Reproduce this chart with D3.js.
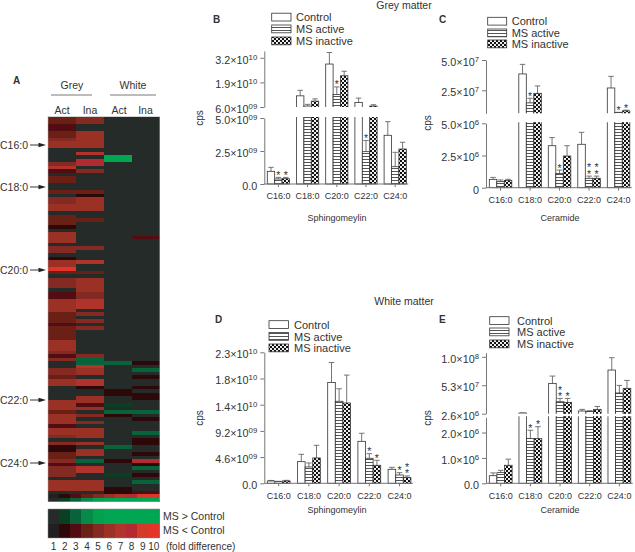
<!DOCTYPE html>
<html><head><meta charset="utf-8">
<script src="https://cdn.jsdelivr.net/npm/d3@7/dist/d3.min.js"></script>
<style>html,body{margin:0;padding:0;background:#fff}svg{display:block;opacity:.999}text{font-family:"Liberation Sans",Arial,sans-serif;fill:#333}</style>
</head><body><div id="c"></div>
<script>
const lipids=["C16:0","C18:0","C20:0","C22:0","C24:0"];
const seriesNames=["Control","MS active","MS inactive"];

// heat map: sign = direction, magnitude = fold difference
const heatColumns=["Act","Ina","Act2","Ina2"];
const greyAct=[4,4,3,3,4,4,5,6,6,1, 1,1,1,5,7,3,1,4,4,1, 1,4,1,5,5,6,6,1,4,4, 4,2,1,6,6,6,1,5,5,1, 2,6,6,10,4,1,5,5,5,1,
 3,3,6,6,6,6,4,4,4,3, 4,4,4,4,6,6,6,5,3,5, 1,1,5,5,4,6,6,1,1,1, 1,6,6,6,4,6,6,6,3,6, 6,5,1,5,2,2,4,4,5,3, 5,5,5,1,6,6,6,1];
const greyIna=[5,5,1,1,6,6,6,6,6,1, 7,1,8,8,1,5,1,1,1,1, 1,4,2,6,6,6,6,1,1,4, 1,1,1,1,1,1,1,5,1,1, 1,7,1,1,4,1,6,6,6,6,
 5,5,7,7,7,1,5,1,5,1, 5,1,1,1,1,1,1,1,5,-3, -3,7,6,6,1,7,7,2,1,1, 6,6,3,6,1,5,1,5,1,6, 6,6,1,6,1,6,6,1,-3,1, 7,7,1,1,6,6,6,1];
const whiteAct=[1,1,1,1,1,1,1,1,1,1, 1,-7,-7,1,1,1,1,1,1,1, 1,1,1,1,1,1,1,1,1,1, 1,1,1,1,1,1,1,1,1,1, 1,1,1,1,1,1,1,1,1,1,
 1,1,1,1,1,1,1,1,1,1, 1,1,1,1,1,1,1,1,1,1, -3,1,1,1,1,1,1,1,2,2, 1,1,-2,1,-3,2,1,1,1,1, 1,1,1,1,-3,1,1,1,2,1, 1,1,-2,1,1,1,2,2];
const whiteIna=[1,1,1,1,1,1,1,1,1,1, 1,1,1,1,1,1,1,1,1,1, 1,1,1,1,1,1,1,1,1,1, 1,1,1,1,3,1,1,1,1,1, 1,1,1,1,1,1,1,1,1,1,
 1,1,1,1,1,1,1,1,1,1, 1,1,1,1,1,1,1,1,1,1, 2,1,-3,1,2,1,1,2,1,2, 2,1,1,1,-3,1,2,1,1,1, -3,1,2,2,1,1,2,1,8,2, -3,1,2,1,-3,1,1,3];
const foldSteps=[1,2,3,4,5,6,7,8,9,10];
const greenColors=["#252b28","#0b3f22","#09633a","#078a47","#03a04e","#00a651","#00a651","#00a651","#00a651","#00a651"];
const redColors=["#231f20","#2d0808","#520c12","#6b2016","#852a22","#9b3125","#b0342c","#b22b31","#d23a2a","#e3342b"];
const arrowLabels=[["C16:0",145],["C18:0",187],["C20:0",270],["C22:0",400],["C24:0",463]];

// B
const bControl=[0.96e9,11.9e9,28.7e9,8.4e9,3.69e9], bControlTop=[1.26e9,14.8e9,34.8e9,10.7e9,4.72e9];
const bActive=[0.38e9,6.5e9,12.6e9,2.45e9,1.31e9], bActiveTop=[0.5e9,7.4e9,16.6e9,3.3e9,2.4e9];
const bInactive=[0.4e9,9.1e9,22.5e9,6.5e9,2.65e9], bInactiveTop=[0.5e9,10.3e9,24.9e9,7.2e9,3.16e9];
const bStars=[[0,1,1],[0,0,0],[0,1,0],[0,1,0],[0,0,0]];
// C
const cControl=[0.65e6,38.5e6,3.26e6,3.37e6,26.9e6], cControlTop=[0.8e6,46.4e6,3.89e6,4.3e6,36.5e6];
const cActive=[0.47e6,14.6e6,1.11e6,0.73e6,6.6e6], cActiveTop=[0.6e6,18.4e6,1.37e6,0.9e6,6.8e6];
const cInactive=[0.57e6,22.5e6,2.46e6,0.73e6,8e6], cInactiveTop=[0.65e6,28.6e6,3.26e6,0.9e6,8.6e6];
const cStars=[[0,0,0],[0,1,0],[0,1,0],[0,2,2],[0,1,1]];
// D
const dControl=[0.41e9,3.8e9,17.7e9,7.37e9,2.46e9], dControlTop=[0.5e9,5.09e9,21.2e9,8.78e9,2.8e9];
const dActive=[0.29e9,2.87e9,14.4e9,4.39e9,1.46e9], dActiveTop=[0.35e9,3.57e9,16.6e9,5.2e9,1.87e9];
const dInactive=[0.41e9,4.45e9,14.1e9,3.16e9,1.0e9], dInactiveTop=[0.52e9,6.67e9,19.0e9,4.04e9,1.29e9];
const dStars=[[0,0,0],[0,0,0],[0,0,0],[0,1,1],[0,1,2]];
// E
const eControl=[0.30e6,3.7e6,54.5e6,7.2e6,77.3e6], eControlTop=[0.41e6,3.9e6,67e6,10e6,98.4e6];
const eActive=[0.42e6,1.76e6,23.1e6,6.6e6,38e6], eActiveTop=[0.51e6,2.09e6,28.8e6,7.7e6,51e6];
const eInactive=[0.71e6,1.76e6,22e6,10e6,46e6], eInactiveTop=[0.95e6,2.23e6,28.8e6,15e6,59.6e6];
const eStars=[[0,0,0],[0,1,1],[0,2,1],[0,0,0],[0,0,0]];

const W=635,H=552;
const svg=d3.select("#c").append("svg").attr("width",W).attr("height",H);
const defs=svg.append("defs");
const ps=defs.append("pattern").attr("id","stripes").attr("patternUnits","userSpaceOnUse").attr("width",4).attr("height",3);
ps.append("rect").attr("width",4).attr("height",3).attr("fill","#fff");
ps.append("rect").attr("y",0).attr("width",4).attr("height",1).attr("fill","#555");
const pc=defs.append("pattern").attr("id","checks").attr("patternUnits","userSpaceOnUse").attr("width",4).attr("height",4);
pc.append("rect").attr("width",4).attr("height",4).attr("fill","#eee");
pc.append("rect").attr("width",2).attr("height",2).attr("fill","#111");
pc.append("rect").attr("x",2).attr("y",2).attr("width",2).attr("height",2).attr("fill","#111");
const fills=["#fff","url(#stripes)","url(#checks)"];

function txt(g,x,y,s,size,opt={}){
  return g.append("text").attr("x",x).attr("y",y).attr("font-size",size)
    .attr("text-anchor",opt.anchor||"start").attr("font-weight",opt.bold?"bold":null).text(s);
}
txt(svg,404,9,"Grey matter",10.5,{anchor:"middle"});
txt(svg,404,305,"White matter",10.5,{anchor:"middle"});

/* ---- Heat map ---- */
const hm=svg.append("g").attr("shape-rendering","crispEdges");
const hx=d3.scaleBand().domain(heatColumns).range([48,159.4]);
const rowsTotal=d3.range(110);
const hy=d3.scaleBand().domain(rowsTotal).range([116.6,501.4]);
const colorOf=v=>v<0?greenColors[-v-1]:v===1?greenColors[0]:redColors[v-1];
const heatData=[greyAct,greyIna,whiteAct,whiteIna];
heatColumns.forEach((c,ci)=>{
  hm.selectAll(null).data(heatData[ci]).enter().append("rect")
    .attr("x",hx(c)).attr("width",hx.bandwidth()+0.5)
    .attr("y",(d,i)=>hy(i)).attr("height",hy.bandwidth()+0.5).attr("fill",colorOf);
});
const stepX=d3.scaleBand().domain(foldSteps).range([48,159.4]);
[[108,redColors],[109,greenColors]].forEach(([r,cols])=>{
  hm.selectAll(null).data(foldSteps).enter().append("rect")
    .attr("x",d=>stepX(d)).attr("width",stepX.bandwidth()+0.5)
    .attr("y",hy(r)).attr("height",hy.bandwidth()+0.5).attr("fill",(d,i)=>cols[i]);
});
svg.append("rect").attr("x",48).attr("y",116.6).attr("width",111.4).attr("height",384.8).attr("fill","none").attr("stroke","#aaa").attr("stroke-width",0.5);
txt(svg,13,84,"A",10,{bold:true});
txt(svg,72,89,"Grey",10.5,{anchor:"middle"});
txt(svg,133,89,"White",10.5,{anchor:"middle"});
[[51,92],[110,156]].forEach(([a,b])=>svg.append("line").attr("x1",a).attr("x2",b).attr("y1",95).attr("y2",95).attr("stroke","#555").attr("stroke-width",0.8));
[["Act",62],["Ina",90],["Act",119],["Ina",145.5]].forEach(([s,x])=>txt(svg,x,114,s,10.5,{anchor:"middle"}));
arrowLabels.forEach(([s,y])=>{
  txt(svg,0,y+4,s,10.5);
  svg.append("line").attr("x1",30).attr("x2",42).attr("y1",y).attr("y2",y).attr("stroke","#222").attr("stroke-width",0.9);
  svg.append("path").attr("d",d3.line()([[46,y],[38.5,y-2.3],[38.5,y+2.3]])+"Z").attr("fill","#222");
});
/* fold legend */
const ly=d3.scaleBand().domain(["g","r"]).range([509,538]);
const lg=svg.append("g").attr("shape-rendering","crispEdges");
[["g",greenColors],["r",redColors]].forEach(([r,cols])=>{
  lg.selectAll(null).data(foldSteps).enter().append("rect")
   .attr("x",d=>stepX(d)).attr("width",stepX.bandwidth()+0.5)
   .attr("y",ly(r)).attr("height",ly.bandwidth()).attr("fill",(d,i)=>cols[i]);
});
svg.append("rect").attr("x",48).attr("y",509).attr("width",111.4).attr("height",29).attr("fill","none").attr("stroke","#888").attr("stroke-width",0.5);
txt(svg,163,520,"MS > Control",10.5);
txt(svg,163,534,"MS < Control",10.5);
foldSteps.forEach(d=>txt(svg,stepX(d)+stepX.bandwidth()/2,550,String(d),10,{anchor:"middle"}));
txt(svg,166,550,"(fold difference)",10);

/* ---- Bar panels ---- */
function tickLabels(sel,labels){
  sel.selectAll(".tick text").each(function(d,i){
    const t=d3.select(this).text(null).attr("font-size",10.8).attr("dy","0.5em").attr("fill","#333");
    const [a,b]=labels[i];
    t.append("tspan").text(a);
    if(b){t.append("tspan").attr("font-size",7.8).attr("dy","-4").text(b);}
  });
}
let clipId=0;
function panel(p){
  const g=svg.append("g");
  const segs=p.segments.map(s=>{
    const y=d3.scaleLinear().domain(s.domain).range(s.range);
    return Object.assign({},s,{y});
  });
  const upper=segs[1];
  const lower=segs[0];
  const yOf=v=>upper&&v>upper.domain[0]&&v>lower.domain[1]?upper.y(v):lower.y(v);
  const gw=p.barW*3;
  const x=d3.scaleBand().domain(lipids).range([p.x0,p.x0+4*p.step+gw]).paddingInner(1-gw/p.step).paddingOuter(0);
  const xs=d3.scaleBand().domain(seriesNames).range([0,gw]);
  const baseY=lower.y(0);
  const series=[[p.control,p.controlTop],[p.active,p.activeTop],[p.inactive,p.inactiveTop]];
  segs.forEach(s=>{
    const id="clip"+(clipId++);
    g.append("clipPath").attr("id",id).append("rect").attr("x",p.axisX).attr("width",W-p.axisX)
      .attr("y",s.range[1]-1).attr("height",s.range[0]-s.range[1]+1+(s===lower?1:0));
    const cg=g.append("g").attr("clip-path",`url(#${id})`);
    seriesNames.forEach((n,si)=>{
      const [vals,tops]=series[si];
      const bx=i=>x(lipids[i])+xs(n);
      const eb=cg.selectAll(null).data(vals).enter().append("g");
      eb.append("line").attr("x1",(d,i)=>bx(i)+xs.bandwidth()/2).attr("x2",(d,i)=>bx(i)+xs.bandwidth()/2)
        .attr("y1",(d,i)=>yOf(tops[i])).attr("y2",d=>yOf(d)).attr("stroke","#666").attr("stroke-width",0.9);
      eb.append("line").attr("x1",(d,i)=>bx(i)+1).attr("x2",(d,i)=>bx(i)+xs.bandwidth()-1)
        .attr("y1",(d,i)=>yOf(tops[i])).attr("y2",(d,i)=>yOf(tops[i])).attr("stroke","#666").attr("stroke-width",0.9);
      cg.selectAll(null).data(vals).enter().append("rect")
        .attr("x",(d,i)=>bx(i)).attr("width",xs.bandwidth())
        .attr("y",d=>yOf(d)).attr("height",d=>baseY-yOf(d))
        .attr("fill",fills[si]).attr("stroke","#333").attr("stroke-width",0.8);
    });
    const ax=g.append("g").attr("transform",`translate(${p.axisX},0)`)
      .call(d3.axisLeft(s.y).tickValues(s.ticks).tickSize(4).tickPadding(3).tickSizeOuter(0));
    ax.select(".domain").attr("stroke","#777").attr("stroke-width",1);
    ax.selectAll(".tick line").attr("stroke","#777");
    tickLabels(ax,s.labels);
  });
  p.stars.forEach((row,i)=>row.forEach((cnt,si)=>{
    if(!cnt)return;
    const cx=x(lipids[i])+xs(seriesNames[si])+xs.bandwidth()/2;
    const top=yOf(series[si][1][i]);
    const t=g.append("text").attr("font-size",10.5).attr("text-anchor","middle");
    d3.range(cnt).forEach(k=>t.append("tspan").attr("x",cx).attr("y",top+1.5-(cnt-1-k)*6.3).text("*"));
  }));
  const xa=g.append("g").attr("transform",`translate(0,${baseY})`)
    .call(d3.axisBottom(x).tickSize(3).tickPadding(6).tickSizeOuter(0));
  xa.select(".domain").remove();
  xa.selectAll(".tick line").attr("stroke","#777");
  xa.selectAll(".tick text").attr("font-size",9).attr("fill","#333");
  g.append("line").attr("x1",p.axisX).attr("x2",p.x0+4*p.step+gw+2).attr("y1",baseY).attr("y2",baseY).attr("stroke","#777").attr("stroke-width",1);
  txt(g,p.letter[0],p.letter[1],p.name,10,{bold:true});
  txt(g,p.xLabel[1],p.xLabel[2],p.xLabel[0],9,{anchor:"middle"});
  g.append("text").attr("transform",`translate(${p.cps[0]},${p.cps[1]}) rotate(-90)`).attr("text-anchor","middle").attr("font-size",10).text("cps");
  seriesNames.forEach((n,i)=>{
    g.append("rect").attr("x",p.legend.x).attr("y",p.legend.ys[i]).attr("width",p.legend.w).attr("height",7.8)
      .attr("fill",fills[i]).attr("stroke","#333").attr("stroke-width",0.8);
    txt(g,p.legend.tx,p.legend.ys[i]+8,n,11);
  });
}
panel({name:"B",letter:[213,23],x0:267.3,step:29.2,barW:7.4,axisX:264.3,
 control:bControl,controlTop:bControlTop,active:bActive,activeTop:bActiveTop,inactive:bInactive,inactiveTop:bInactiveTop,stars:bStars,
 segments:[
  {domain:[0,5e9],range:[184,118],ticks:[0,2.5e9,5e9],labels:[["0.0"],["2.5×10","09"],["5.0×10","09"]]},
  {domain:[6e9,35.6e9],range:[107,51],ticks:[6e9,19e9,32e9],labels:[["6.0×10","09"],["1.9×10","10"],["3.2×10","10"]]}],
 xLabel:["Sphingomeylin",337,221],cps:[203,118],
 legend:{x:271.7,w:19.3,tx:296,ys:[13.2,25,37]}});
panel({name:"C",letter:[439,23],x0:489.3,step:29.5,barW:7.5,axisX:486,
 control:cControl,controlTop:cControlTop,active:cActive,activeTop:cActiveTop,inactive:cInactive,inactiveTop:cInactiveTop,stars:cStars,
 segments:[
  {domain:[0,5e6],range:[187.7,123.3],ticks:[0,2.5e6,5e6],labels:[["0"],["2.5×10","6"],["5.0×10","6"]]},
  {domain:[6e6,50e6],range:[113.3,60],ticks:[25e6,50e6],labels:[["2.5×10","7"],["5.0×10","7"]]}],
 xLabel:["Ceramide",560,221],cps:[431,123],
 legend:{x:487.7,w:19,tx:511.7,ys:[17.3,29,40]}});
panel({name:"D",letter:[215,323],x0:267.3,step:30.2,barW:7.6,axisX:264.3,
 control:dControl,controlTop:dControlTop,active:dActive,activeTop:dActiveTop,inactive:dInactive,inactiveTop:dInactiveTop,stars:dStars,
 segments:[
  {domain:[0,23e9],range:[483.3,352.3],ticks:[0,4.6e9,9.2e9,13.8e9,18.4e9,23e9],labels:[["0.0"],["4.6×10","09"],["9.2×10","09"],["1.4×10","10"],["1.8×10","10"],["2.3×10","10"]]}],
 xLabel:["Sphingomeylin",337,513],cps:[203,418],
 legend:{x:269,w:19.5,tx:294,ys:[320.7,332.5,344]}});
panel({name:"E",letter:[439,323],x0:489.3,step:29.67,barW:7.6,axisX:486,
 control:eControl,controlTop:eControlTop,active:eActive,activeTop:eActiveTop,inactive:eInactive,inactiveTop:eInactiveTop,stars:eStars,
 segments:[
  {domain:[0,2.6e6],range:[483.3,417.3],ticks:[0,1e6,2e6],labels:[["0.0"],["1.0×10","6"],["2.0×10","6"]]},
  {domain:[2.6e6,107e6],range:[413.7,352.7],ticks:[2.6e6,51.3e6,100e6],labels:[["2.6×10","6"],["5.3×10","7"],["1.0×10","8"]]}],
 xLabel:["Ceramide",560,513],cps:[431,418],
 legend:{x:489.7,w:19.3,tx:517,ys:[316.7,328,340]}});
</script></body></html>
